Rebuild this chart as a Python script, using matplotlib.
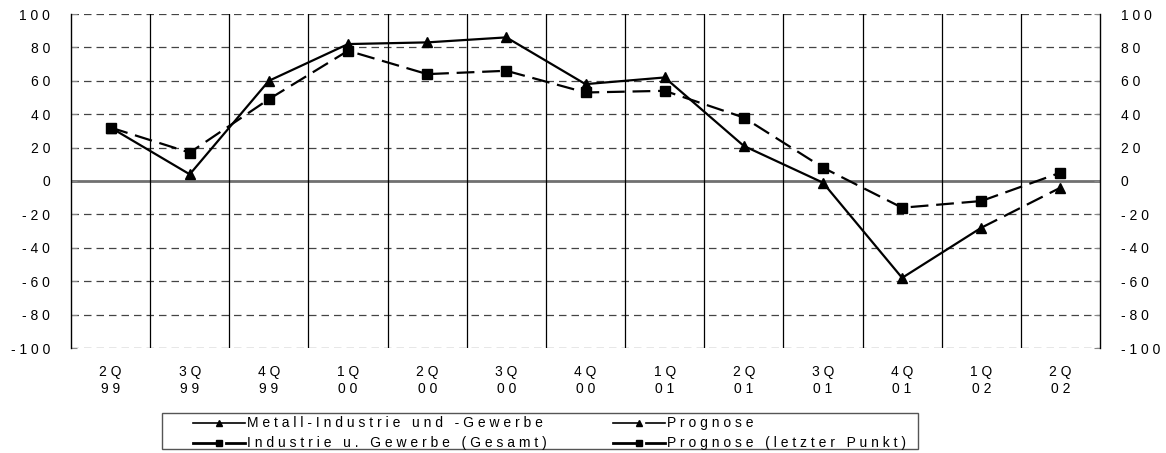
import matplotlib
matplotlib.use("Agg")
import matplotlib.pyplot as plt
from matplotlib.lines import Line2D
from matplotlib.patches import Rectangle

plt.rcParams["font.family"] = ["Liberation Sans", "DejaVu Sans"]

quarters = ["2Q99", "3Q99", "4Q99", "1Q00", "2Q00", "3Q00", "4Q00",
            "1Q01", "2Q01", "3Q01", "4Q01", "1Q02", "2Q02"]
metall = [32, 4, 60, 82, 83, 86, 58, 62, 21, -1, -58, -28, -4]
gesamt = [32, 17, 49, 78, 64, 66, 53, 54, 38, 8, -16, -12, 5]
n_prog = 1  # letzte Punkte = Prognose
yticks = list(range(-100, 101, 20))
legend_labels = ["Metall-Industrie und -Gewerbe", "Prognose",
                 "Industrie u. Gewerbe (Gesamt)", "Prognose (letzter Punkt)"]

W, H = 1166, 453


def spaced(s):
    return " ".join(s)


def fx(px):
    return px / W


def fy(py):
    return 1 - py / H


fig = plt.figure(figsize=(W / 100, H / 100), dpi=100)
ax = fig.add_axes([fx(71), fy(348), fx(1100) - fx(71), fy(14) - fy(348)])

x = list(range(len(quarters)))
lw = 1.6
dash = (8, 3.5)

# horizontale Gitterlinien (gestrichelt), Nulllinie durchgezogen grau
for v in yticks:
    if v == 0:
        ax.axhline(0, color="#707070", lw=2.0, zorder=1)
    else:
        ax.axhline(v, color="#444444", lw=0.9, dashes=(6, 4), zorder=1)
for k in range(1, len(quarters)):
    ax.axvline(k - 0.5, color="black", lw=0.9, zorder=1)

k = len(quarters) - n_prog - 1
ax.plot(x[:k + 1], metall[:k + 1], color="black", lw=lw, marker="^", ms=7, zorder=3)
ax.plot(x[k:], metall[k:], color="black", lw=lw, dashes=dash, marker="^", ms=7,
        markevery=[1], zorder=3)
ax.plot(x[:k + 1], gesamt[:k + 1], color="black", lw=lw, dashes=dash, marker="s", ms=6.5,
        zorder=4)
ax.plot(x[k:], gesamt[k:], color="black", lw=lw, dashes=dash, marker="s", ms=6.5,
        markevery=[1], zorder=4)

ax.set_xlim(-0.5, len(quarters) - 0.5)
ax.set_ylim(-100, 100)
ax.set_yticks(yticks)
ax.set_yticklabels([spaced(str(v)) for v in yticks], fontsize=10)
ax.tick_params(axis="y", which="both", left=True, right=True, labelleft=True,
               labelright=True, direction="in", length=4, color="#888888", pad=15)
ax.set_xticks(x)
ax.set_xticklabels([spaced(q[:2]) + "\n" + spaced(q[2:]) for q in quarters],
                   fontsize=10, linespacing=1.3)
ax.tick_params(axis="x", length=0, pad=12)
for s in ["top", "bottom"]:
    ax.spines[s].set_visible(False)
for s in ["left", "right"]:
    ax.spines[s].set_linewidth(1.0)

# Legende von Hand (Excel-Stil)
fig.add_artist(Rectangle((fx(162), fy(449)), fx(918) - fx(162), fy(413) - fy(449),
                         transform=fig.transFigure, fill=False, ec="#555555", lw=1.0))


def handle(x0, y, marker, thick, gap):
    lwh = 2.0 if thick else 1.2
    mid = x0 + 26
    if gap:
        fig.add_artist(Line2D([fx(x0), fx(mid)], [fy(y), fy(y)], color="black", lw=lwh,
                              transform=fig.transFigure))
        fig.add_artist(Line2D([fx(mid + 7), fx(x0 + 52)], [fy(y), fy(y)], color="black",
                              lw=lwh, transform=fig.transFigure))
    else:
        fig.add_artist(Line2D([fx(x0), fx(x0 + 52)], [fy(y), fy(y)], color="black", lw=lwh,
                              transform=fig.transFigure))
    fig.add_artist(Line2D([fx(mid)], [fy(y)], color="black", marker=marker, ms=5,
                          transform=fig.transFigure))


rows = [423, 443]
handle(193, rows[0], "^", False, False)
handle(193, rows[1], "s", True, True)
handle(613, rows[0], "^", False, True)
handle(613, rows[1], "s", True, True)
for (tx, ty), lab in zip([(247, rows[0]), (667, rows[0]), (247, rows[1]), (667, rows[1])],
                         legend_labels):
    fig.text(fx(tx), fy(ty), spaced(lab), fontsize=10, va="center", ha="left")

fig.savefig("out.png", dpi=100)
